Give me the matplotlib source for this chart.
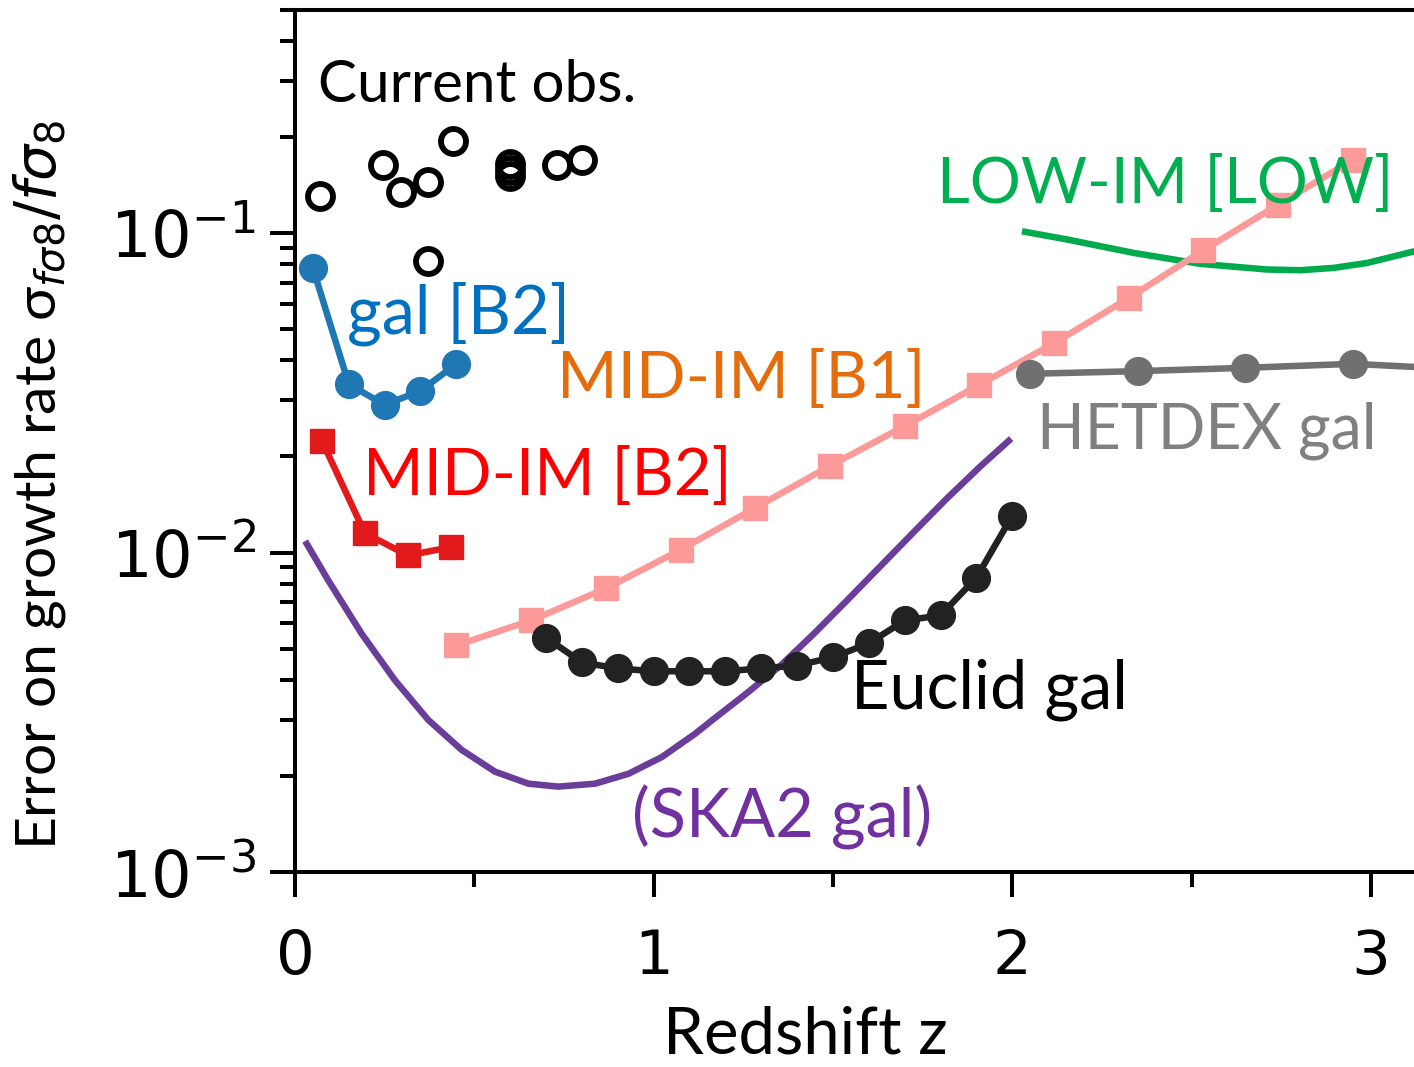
import matplotlib.pyplot as plt
import numpy as np

# current observations (open circles)
obs_z = [0.07, 0.245, 0.296, 0.371, 0.44, 0.371, 0.60, 0.60, 0.60, 0.73, 0.80]
obs_err = [0.131, 0.164, 0.135, 0.145, 0.194, 0.0818, 0.165, 0.158, 0.151, 0.164, 0.170]

gal_b2_z = [0.05, 0.15, 0.25, 0.35, 0.45]
gal_b2_err = [0.0778, 0.0337, 0.029, 0.0321, 0.039]

mid_b2_z = [0.075, 0.195, 0.315, 0.435]
mid_b2_err = [0.0224, 0.0115, 0.0098, 0.0104]

mid_b1_z = [0.45, 0.658, 0.867, 1.075, 1.283, 1.492, 1.70, 1.908, 2.117, 2.325, 2.533, 2.742, 2.95]
mid_b1_err = [0.00512, 0.00613, 0.00772, 0.0102, 0.0138, 0.0187, 0.0249, 0.0335, 0.0453,
              0.0627, 0.0885, 0.123, 0.170]

euclid_z = [0.7, 0.8, 0.9, 1.0, 1.1, 1.2, 1.3, 1.4, 1.5, 1.6, 1.7, 1.8, 1.9, 2.0]
euclid_err = [0.00542, 0.00453, 0.00434, 0.00425, 0.00425, 0.00425, 0.00434, 0.00443,
              0.00470, 0.0052, 0.00613, 0.00636, 0.00835, 0.01305]

hetdex_z = [2.05, 2.35, 2.65, 2.95, 3.25]
hetdex_err = [0.0363, 0.037, 0.0379, 0.039, 0.0375]

low_z = [2.036, 2.153, 2.338, 2.524, 2.71, 2.803, 2.896, 2.989, 3.121]
low_err = [0.101, 0.0956, 0.0868, 0.0802, 0.0770, 0.0766, 0.0779, 0.0807, 0.0878]

ska_z = [0.033, 0.093, 0.186, 0.279, 0.372, 0.465, 0.558, 0.651, 0.734, 0.837, 0.930,
         1.023, 1.116, 1.167, 1.26, 1.353, 1.446, 1.539, 1.632, 1.725, 1.818, 1.911, 1.99]
ska_err = [0.01065, 0.00818, 0.00557, 0.00398, 0.00299, 0.00241, 0.00206, 0.00189, 0.00185,
           0.00189, 0.00203, 0.00229, 0.00271, 0.00301, 0.00363, 0.00442, 0.00556, 0.00708,
           0.00906, 0.01159, 0.01479, 0.01862, 0.02239]

fig = plt.figure(figsize=(14.14, 10.67), dpi=100)
ax = fig.add_axes([0.2086, 0.1828, 0.7914, 0.8078])

lw = 4.7
ax.plot(ska_z, ska_err, color='#6a3d9a', lw=lw, zorder=2)
ax.plot(low_z, low_err, color='#00ab4e', lw=lw, zorder=2)
ax.plot(mid_b1_z, mid_b1_err, color='#fb9a99', lw=lw, marker='s', ms=17, zorder=3)
ax.plot(hetdex_z, hetdex_err, color='#707070', lw=lw, marker='o', ms=20, zorder=3)
ax.plot(euclid_z, euclid_err, color='#222222', lw=lw, marker='o', ms=20, zorder=4)
ax.plot(mid_b2_z, mid_b2_err, color='#e31a1c', lw=lw, marker='s', ms=17, zorder=3)
ax.plot(gal_b2_z, gal_b2_err, color='#1f77b4', lw=lw, marker='o', ms=20, zorder=3)
ax.plot(obs_z, obs_err, ls='none', marker='o', ms=18, mfc='none', mec='black', mew=4.2, zorder=3)

fnt = 'Lato'
ax.text(0.065, 0.29, 'Current obs.', color='black', fontsize=42, family=fnt, va='center')
ax.text(0.145, 0.0558, 'gal [B2]', color='#0070c0', fontsize=48, family=fnt, va='center')
ax.text(0.73, 0.035, 'MID-IM [B1]', color='#e46c0a', fontsize=47, family=fnt, va='center')
ax.text(0.19, 0.0174, 'MID-IM [B2]', color='#ff0000', fontsize=47, family=fnt, va='center')
ax.text(1.79, 0.142, 'LOW-IM [LOW]', color='#00b050', fontsize=46, family=fnt, va='center')
ax.text(2.07, 0.0241, 'HETDEX gal', color='#808080', fontsize=45, family=fnt, va='center')
ax.text(1.55, 0.00371, 'Euclid gal', color='black', fontsize=48, family=fnt, va='center')
ax.text(0.94, 0.001486, '(SKA2 gal)', color='#7030a0', fontsize=48, family=fnt, va='center')

ax.set_yscale('log')
ax.set_xlim(0, 3.12)
ax.set_ylim(1e-3, 0.5)
ax.set_xticks([0, 1, 2, 3])
ax.set_xticks([0.5, 1.5, 2.5], minor=True)

ax.spines['right'].set_visible(False)
for s in ['left', 'bottom', 'top']:
    ax.spines[s].set_linewidth(2.9)
ax.tick_params(which='major', length=18, width=2.9, labelsize=44)
ax.tick_params(axis='x', which='major', pad=22)
ax.tick_params(axis='y', which='major', pad=10, labelsize=46)
ax.tick_params(which='minor', length=11, width=2.9)
ax.tick_params(axis='y', which='minor', labelleft=False)
ax.tick_params(right=False, top=False, which='both')

ax.set_xlabel('Redshift z', fontsize=47, family=fnt)
ax.xaxis.set_label_coords(0.456, -0.155)
ax.set_ylabel(r'Error on growth rate σ$_{f\sigma 8}/f\sigma_8$', fontsize=41, family=fnt)
ax.yaxis.set_label_coords(-0.203, 0.449)

fig.savefig('out.png', dpi=100)
